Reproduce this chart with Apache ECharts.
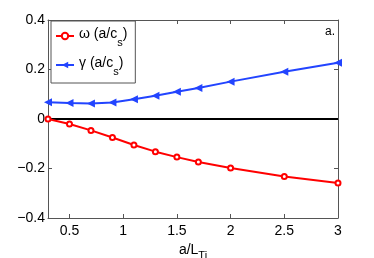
<!DOCTYPE html>
<html><head><meta charset="utf-8">
<script src="https://cdn.jsdelivr.net/npm/echarts@6/dist/echarts.min.js"></script>
<style>html,body{margin:0;padding:0;background:#fff}#c{width:374px;height:258px}</style>
</head><body><div id="c"></div>
<script>
const xValues = [0.3, 0.5, 0.7, 0.9, 1.1, 1.3, 1.5, 1.7, 2.0, 2.5, 3.0];
const omega = [0.0, -0.02, -0.046, -0.075, -0.105, -0.132, -0.154, -0.174, -0.198, -0.232, -0.259];
const gamma = [0.068, 0.065, 0.063, 0.067, 0.080, 0.094, 0.110, 0.125, 0.151, 0.191, 0.227];
const xTicks = [0.5, 1, 1.5, 2, 2.5, 3];
const yTicks = [-0.4, -0.2, 0, 0.2, 0.4];

const font = 'Liberation Sans, Arial, Helvetica, sans-serif';
const axisCol = '#555';
const chart = echarts.init(document.getElementById('c'), null, {renderer: 'canvas'});
const pairs = a => xValues.map((x, i) => [x, a[i]]);
const fmtY = v => v === 0 ? '0' : (v < 0 ? '\u2212' + Math.abs(v).toFixed(1) : v.toFixed(1));

chart.setOption({
  animation: false,
  grid: {left: 48, right: 36, top: 20, bottom: 40, outerBoundsMode: 'none', containLabel: false},
  xAxis: [{
    type: 'value', min: 0.3, max: 3, position: 'bottom',
    axisLine: {show: true, onZero: false, lineStyle: {color: axisCol, width: 1}},
    axisTick: {show: true, inside: true, length: 4, customValues: xTicks, lineStyle: {color: axisCol}},
    axisLabel: {customValues: xTicks, formatter: v => String(v), color: '#000', fontSize: 14, fontFamily: font, margin: 6},
    splitLine: {show: false},
    name: '{a|a/L}{s|Ti}', nameLocation: 'middle', nameGap: 5,
    nameTextStyle: {rich: {a: {fontSize: 14, fontFamily: font, color: '#000'}, s: {fontSize: 11, fontFamily: font, color: '#000', verticalAlign: 'bottom', padding: [12, 0, 0, 0]}}}
  }, {
    type: 'value', min: 0.3, max: 3, position: 'top',
    axisLine: {show: true, onZero: false, lineStyle: {color: axisCol, width: 1}},
    axisTick: {show: true, inside: true, length: 4, customValues: xTicks, lineStyle: {color: axisCol}},
    axisLabel: {show: false}, splitLine: {show: false}
  }],
  yAxis: [{
    type: 'value', min: -0.4, max: 0.4, interval: 0.2, position: 'left',
    axisLine: {show: true, onZero: false, lineStyle: {color: axisCol, width: 1}},
    axisTick: {show: true, inside: true, length: 4, lineStyle: {color: axisCol}},
    axisLabel: {formatter: fmtY, color: '#000', fontSize: 14, fontFamily: font, margin: 3},
    splitLine: {show: false}
  }, {
    type: 'value', min: -0.4, max: 0.4, interval: 0.2, position: 'right',
    axisLine: {show: true, onZero: false, lineStyle: {color: axisCol, width: 1}},
    axisTick: {show: true, inside: true, length: 4, lineStyle: {color: axisCol}},
    axisLabel: {show: false}, splitLine: {show: false}
  }],
  legend: {
    left: 51, top: 21, orient: 'vertical',
    padding: [6, 8, 6, 4], itemGap: 8,
    borderColor: '#555', borderWidth: 1, backgroundColor: '#fff',
    itemWidth: 18, itemHeight: 8,
    textStyle: {fontSize: 14, fontFamily: font, color: '#000',
      rich: {a: {fontSize: 14, fontFamily: font, color: '#000', padding: [0, 0, 4, 0]}, s: {fontSize: 11, fontFamily: font, color: '#000', padding: [13, 0, 0, 0]}}},
    formatter: n => n === 'omega' ? '{a|\u03c9 (a/c}{s|s}{a|)}' : '{a|\u03b3 (a/c}{s|s}{a|)}',
    data: ['omega', 'gamma']
  },
  graphic: [{type: 'text', right: 36 + 3, top: 26, style: {text: 'a.', fontSize: 12, fontFamily: font, fill: '#000'}}],
  series: [{
    name: 'omega', type: 'line', data: pairs(omega), z: 3,
    symbol: 'emptyCircle', symbolSize: 5,
    lineStyle: {color: '#ff0000', width: 2},
    itemStyle: {color: '#ff0000', borderColor: '#ff0000', borderWidth: 2},
    markLine: {silent: true, symbol: 'none', label: {show: false}, z: 1,
      lineStyle: {color: '#000', width: 2, type: 'solid'}, data: [{yAxis: 0}]}
  }, {
    name: 'gamma', type: 'line', data: pairs(gamma), z: 3,
    symbol: 'triangle', symbolSize: 8, symbolRotate: 90,
    lineStyle: {color: '#2244ff', width: 2},
    itemStyle: {color: '#2244ff'}
  }]
});
</script></body></html>
